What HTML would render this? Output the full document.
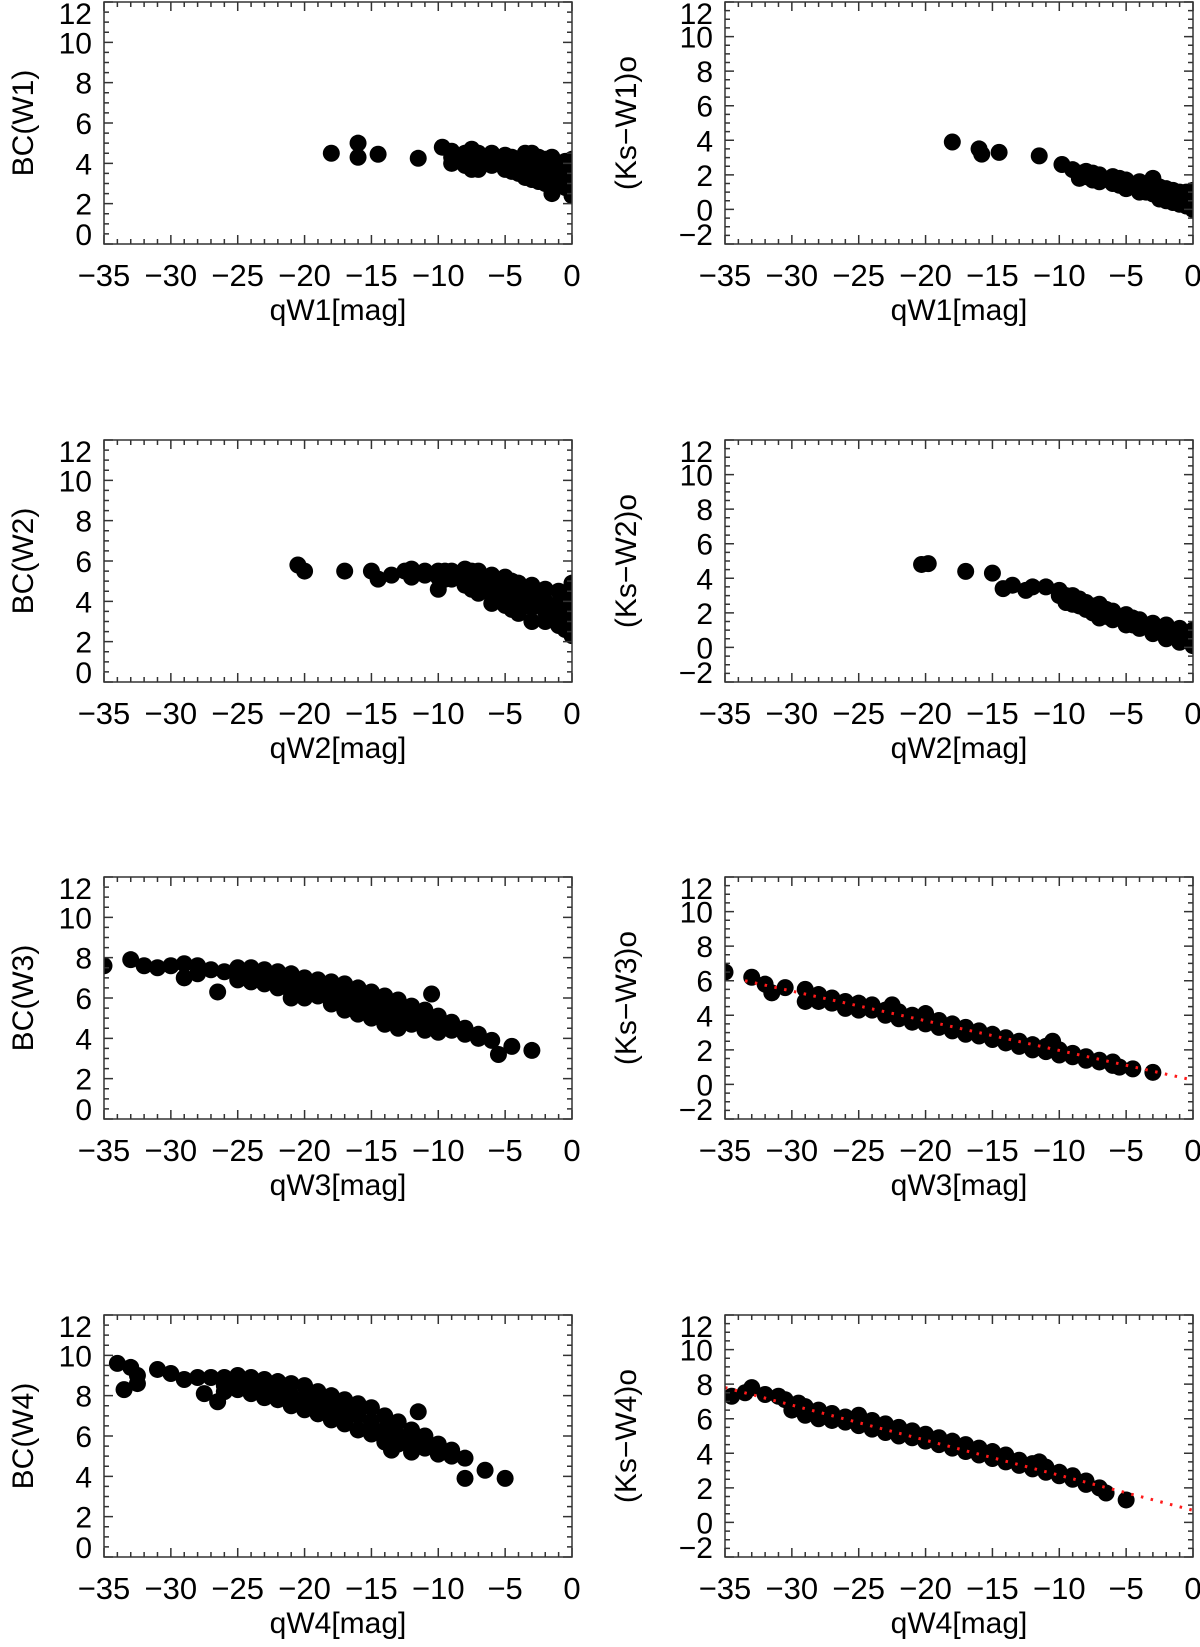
<!DOCTYPE html>
<html><head><meta charset="utf-8"><style>
html,body{margin:0;padding:0;background:#fff;}
svg text{font-family:"Liberation Sans",sans-serif;fill:#000;}
</style></head>
<body>
<svg id="fig" width="1200" height="1642" viewBox="0 0 1200 1642" xmlns="http://www.w3.org/2000/svg"></svg>
<script>
// ---- data ----
const xTicks = [-35,-30,-25,-20,-15,-10,-5,0];
const yTicksLeft = [0,2,4,6,8,10,12];
const yTicksRight = [-2,0,2,4,6,8,10,12];
const bcW1 = [[-18,4.5],[-16,4.3],[-16,5.0],[-14.5,4.45],[-11.5,4.25],[-9.7,4.8],
[-9,4.6],[-9,4.3],[-9,4.0],[-8,4.5],[-8,4.2],[-8,3.9],[-7.5,4.7],[-7.5,4.4],[-7.5,3.7],[-7,4.5],[-7,4.1],[-7,3.7],
[-6,4.5],[-6,4.2],[-6,3.9],[-5,4.4],[-5,4.1],[-5,3.7],[-4.5,4.3],[-4.5,4.0],[-4.5,3.6],[-4,4.2],[-4,3.9],[-4,3.5],
[-3.5,4.5],[-3.5,4.1],[-3.5,3.6],[-3.5,3.3],[-3,4.5],[-3,4.0],[-3,3.5],[-3,3.2],[-2.5,4.3],[-2.5,3.9],[-2.5,3.4],[-2.5,3.1],
[-2,4.2],[-2,3.8],[-2,3.3],[-2,3.0],[-1.5,4.3],[-1.5,3.7],[-1.5,3.2],[-1.5,2.5],[-1,4.0],[-1,3.6],[-1,3.1],[-1,2.9],
[-0.5,4.1],[-0.5,3.6],[-0.5,3.2],[-0.5,2.8],[0,4.2],[0,3.8],[0,3.4],[0,3.0],[0,2.4]];
const ksW1 = [[-18,3.9],[-16,3.5],[-15.8,3.2],[-14.5,3.3],[-11.5,3.1],[-9.8,2.6],
[-9,2.3],[-8.5,2.1],[-8.5,1.8],[-8,2.2],[-8,1.9],[-7.5,2.1],[-7.5,1.7],[-7,2.0],[-7,1.6],[-6,1.9],[-6,1.5],[-5.5,1.8],[-5.5,1.4],
[-5,1.7],[-5,1.3],[-5,1.2],[-4,1.6],[-4,1.2],[-4,1.0],[-3.5,1.4],[-3.5,1.0],[-3,1.8],[-3,1.3],[-3,0.9],[-2.5,1.3],[-2.5,0.9],[-2.5,0.6],
[-2,1.2],[-2,0.8],[-2,0.5],[-1.5,1.1],[-1.5,0.7],[-1.5,0.4],[-1,1.0],[-1,0.6],[-1,0.3],[-0.5,1.0],[-0.5,0.5],[-0.5,0.2],
[0,1.1],[0,0.7],[0,0.3],[0,0.0]];
const bcW2 = [[-20.5,5.8],[-20,5.5],[-17,5.5],[-15,5.5],[-14.5,5.1],[-13.5,5.3],[-12.5,5.5],
[-12,5.6],[-12,5.2],[-11,5.5],[-11,5.3],[-10,5.5],[-10,5.2],[-10,4.6],[-9.5,5.5],[-9.5,5.1],[-9,5.5],[-9,5.1],
[-8,5.6],[-8,5.2],[-8,4.8],[-7.5,5.5],[-7.5,5.0],[-7.5,4.6],[-7,5.5],[-7,4.9],[-7,4.4],[-6,5.3],[-6,4.8],[-6,4.3],[-6,3.9],
[-5,5.2],[-5,4.7],[-5,4.2],[-5,3.8],[-4.5,5.0],[-4.5,4.5],[-4.5,4.0],[-4.5,3.6],[-4,4.9],[-4,4.4],[-4,3.9],[-4,3.4],
[-3,4.8],[-3,4.2],[-3,3.7],[-3,3.0],[-2,4.6],[-2,4.0],[-2,3.5],[-2,3.0],[-1,4.5],[-1,3.9],[-1,3.3],[-1,2.8],
[-0.5,4.3],[-0.5,3.6],[-0.5,3.0],[-0.5,2.6],[0,4.9],[0,4.2],[0,3.6],[0,3.0],[0,2.3]];
const ksW2 = [[-20.3,4.8],[-19.8,4.85],[-17,4.4],[-15,4.3],[-14.2,3.4],[-13.5,3.6],[-12.5,3.3],[-12,3.5],[-11,3.5],
[-10,3.3],[-10,3.0],[-9.5,3.0],[-9.5,2.6],[-9,3.0],[-9,2.5],[-8.5,2.8],[-8.5,2.4],[-8,2.6],[-8,2.2],[-7.5,2.4],[-7.5,2.0],
[-7,2.5],[-7,2.0],[-7,1.7],[-6.5,2.2],[-6.5,1.8],[-6,2.1],[-6,1.6],[-5,1.9],[-5,1.5],[-5,1.3],[-4.5,1.7],[-4.5,1.3],
[-4,1.6],[-4,1.1],[-3,1.4],[-3,1.0],[-3,0.8],[-2,1.3],[-2,0.8],[-2,0.5],[-1,1.1],[-1,0.6],[-1,0.3],[0,1.0],[0,0.6],[0,0.1]];
const bcW3 = [[-35,7.6],[-33,7.9],[-32,7.6],[-31,7.5],[-30,7.6],[-29,7.7],[-29,7.0],[-28,7.6],[-28,7.2],[-27,7.4],[-26.5,6.3],[-26,7.3],
[-25,7.5],[-25,7.2],[-25,6.9],[-24,7.5],[-24,7.1],[-24,6.8],[-23,7.4],[-23,7.0],[-23,6.7],[-22,7.3],[-22,6.9],[-22,6.5],
[-21,7.2],[-21,6.7],[-21,6.3],[-21,6.0],[-20,7.0],[-20,6.6],[-20,6.2],[-20,6.0],[-19,6.9],[-19,6.5],[-19,6.1],
[-18,6.8],[-18,6.4],[-18,6.0],[-18,5.7],[-17,6.7],[-17,6.2],[-17,5.8],[-17,5.4],[-16,6.5],[-16,6.1],[-16,5.6],[-16,5.2],
[-15,6.3],[-15,5.9],[-15,5.4],[-15,5.0],[-14,6.1],[-14,5.6],[-14,5.1],[-14,4.7],[-13,5.9],[-13,5.3],[-13,4.9],[-13,4.5],
[-12,5.6],[-12,5.1],[-12,4.7],[-11,5.4],[-11,4.9],[-11,4.4],[-10.5,6.2],[-10,5.1],[-10,4.6],[-10,4.3],[-9,4.8],[-9,4.4],
[-8,4.5],[-8,4.2],[-7,4.2],[-7,4.0],[-6,3.9],[-5.5,3.2],[-4.5,3.6],[-3,3.4]];
const ksW3 = [[-35,6.5],[-33,6.2],[-32,5.8],[-31.5,5.3],[-30.5,5.6],[-29,5.5],[-29,4.8],[-28,5.2],[-28,4.8],[-27,5.0],[-27,4.7],
[-26,4.8],[-26,4.4],[-25,4.7],[-25,4.3],[-24,4.6],[-24,4.3],[-23,4.3],[-23,4.0],[-22.5,4.6],[-22,4.2],[-22,3.8],
[-21,4.0],[-21,3.6],[-20,4.1],[-20,3.9],[-20,3.5],[-19,3.7],[-19,3.3],[-18,3.5],[-18,3.1],[-17,3.3],[-17,2.9],
[-16,3.1],[-16,2.8],[-15,2.9],[-15,2.6],[-14,2.7],[-14,2.4],[-13,2.5],[-13,2.2],[-12,2.3],[-12,2.0],[-11,2.2],[-11,1.9],
[-10.5,2.5],[-10,2.0],[-10,1.7],[-9,1.8],[-9,1.6],[-8,1.6],[-8,1.4],[-7,1.4],[-7,1.3],[-6,1.3],[-6,1.1],[-5.5,1.0],[-4.5,0.9],[-3,0.7]];
const bcW4 = [[-34,9.6],[-33.5,8.3],[-33,9.4],[-32.5,8.6],[-32.5,9.0],[-31,9.3],[-30,9.1],[-29,8.8],[-28,8.9],[-27,8.9],[-27.5,8.1],[-26.5,7.7],
[-26,8.9],[-26,8.5],[-26,8.2],[-25,9.0],[-25,8.7],[-25,8.3],[-24,8.9],[-24,8.5],[-24,8.1],[-23,8.8],[-23,8.3],[-23,7.9],
[-22,8.7],[-22,8.2],[-22,7.8],[-21,8.6],[-21,8.0],[-21,7.5],[-20,8.5],[-20,7.9],[-20,7.3],[-19,8.2],[-19,7.7],[-19,7.1],
[-18,8.0],[-18,7.4],[-18,6.8],[-17,7.8],[-17,7.2],[-17,6.6],[-16,7.6],[-16,7.0],[-16,6.3],[-15,7.4],[-15,6.7],[-15,6.1],
[-14,7.0],[-14,6.3],[-14,5.7],[-13.5,6.4],[-13.5,5.3],[-13,6.7],[-13,6.0],[-13,5.6],[-12,6.3],[-12,5.7],[-12,5.2],
[-11.5,7.2],[-11,6.0],[-11,5.4],[-10,5.6],[-10,5.1],[-9,5.3],[-9,5.0],[-8,4.9],[-8,3.9],[-6.5,4.3],[-5,3.9]];
const ksW4 = [[-34.5,7.3],[-33.5,7.5],[-33,7.8],[-32,7.4],[-31,7.3],[-30.5,7.1],[-30,6.5],[-29.5,6.9],
[-29,6.7],[-29,6.2],[-28,6.5],[-28,6.0],[-27,6.3],[-27,5.9],[-26,6.1],[-26,5.8],[-25,6.2],[-25,5.6],[-24,5.9],[-24,5.4],
[-23,5.7],[-23,5.2],[-22,5.5],[-22,5.0],[-21,5.3],[-21,4.9],[-20,5.1],[-20,4.7],[-19,4.9],[-19,4.5],[-18,4.7],[-18,4.3],
[-17,4.5],[-17,4.1],[-16,4.3],[-16,3.9],[-15,4.1],[-15,3.7],[-14,3.9],[-14,3.5],[-13,3.6],[-13,3.3],[-12,3.4],[-12,3.1],
[-11.5,3.5],[-11,3.2],[-11,2.9],[-10,2.9],[-10,2.7],[-9,2.7],[-9,2.5],[-8,2.4],[-8,2.2],[-7,2.0],[-6.5,1.7],[-5,1.3]];
const fitW3 = [[-33.5,6.0],[0,0.25]];
const fitW4 = [[-35,7.8],[0,0.7]];

const panels = [
 {name:'bc-w1', col:0,row:0,data:bcW1,ylab:'BC(W1)',xlab:'qW1[mag]',fit:null},
 {name:'ks-w1', col:1,row:0,data:ksW1,ylab:'(Ks\u2212W1)o',xlab:'qW1[mag]',fit:null},
 {name:'bc-w2', col:0,row:1,data:bcW2,ylab:'BC(W2)',xlab:'qW2[mag]',fit:null},
 {name:'ks-w2', col:1,row:1,data:ksW2,ylab:'(Ks\u2212W2)o',xlab:'qW2[mag]',fit:null},
 {name:'bc-w3', col:0,row:2,data:bcW3,ylab:'BC(W3)',xlab:'qW3[mag]',fit:null},
 {name:'ks-w3', col:1,row:2,data:ksW3,ylab:'(Ks\u2212W3)o',xlab:'qW3[mag]',fit:fitW3},
 {name:'bc-w4', col:0,row:3,data:bcW4,ylab:'BC(W4)',xlab:'qW4[mag]',fit:null},
 {name:'ks-w4', col:1,row:3,data:ksW4,ylab:'(Ks\u2212W4)o',xlab:'qW4[mag]',fit:fitW4}
];

const NS='http://www.w3.org/2000/svg';
const svg=document.getElementById('fig');
function mk(tag,attrs,parent){const e=document.createElementNS(NS,tag);for(const k in attrs)e.setAttribute(k,attrs[k]);(parent||svg).appendChild(e);return e;}
const colX=[104,725], W=468, H=242, rowTop=[2,440,877,1315];
const fmt=v=>v<0?'\u2212'+(-v):String(v);

panels.forEach((p,i)=>{
  const x0=colX[p.col], y0=rowTop[p.row], x1=x0+W, y1=y0+H;
  const ymin=p.col===0?0:-2, ymax=12;
  const sx=v=>x0+(v+35)/35*W;
  const sy=v=>y1-(v-ymin)/(ymax-ymin)*H;
  const g=mk('g',{});
  
  
  const cid='clip'+i;
  const cp=mk('clipPath',{id:cid},g);
  mk('rect',{x:x0,y:y0,width:W,height:H},cp);
  const pts=mk('g',{'clip-path':'url(#'+cid+')'},g);
  
  
  p.data.forEach(d=>{
    const c=mk('circle',{cx:sx(d[0]),cy:sy(d[1]),r:8.5,fill:'#000'},pts);
    
    
  });
  if(p.fit){
    const l=mk('line',{x1:sx(p.fit[0][0]),y1:sy(p.fit[0][1]),x2:sx(p.fit[1][0]),y2:sy(p.fit[1][1]),stroke:'#ff1a1a','stroke-width':3,'stroke-dasharray':'2.5 7.5','stroke-linecap':'butt'},g);
    
    
  }
  const fr=mk('rect',{x:x0,y:y0,width:W,height:H,fill:'none',stroke:'#333','stroke-width':1.5},g);
  
  
  let tk='';
  for(let v=-35;v<=0;v++){const X=sx(v),L=(v%5===0)?9:5;tk+=`M${X},${y1}v${-L}M${X},${y0}v${L}`;}
  for(let v=ymin;v<=ymax+1e-9;v+=0.5){const Y=sy(v),L=(Math.abs(v%2)<1e-9)?9:5;tk+=`M${x0},${Y}h${L}M${x1},${Y}h${-L}`;}
  const t=mk('path',{d:tk,stroke:'#333','stroke-width':1.5,fill:'none'},g);
  
  
  xTicks.forEach(v=>{
    const tx=mk('text',{x:sx(v),y:y1+42,'font-size':31,'text-anchor':'middle'},g);
    tx.textContent=fmt(v);
    
    
  });
  const yt=p.col===0?yTicksLeft:yTicksRight;
  yt.forEach(v=>{
    let Y=sy(v);
    if(v===ymax)Y+=11; if(v===ymin)Y-=10;
    const tx=mk('text',{x:x0-12,y:Y+11,'font-size':30,'text-anchor':'end'},g);
    tx.textContent=fmt(v);
    
    
  });
  const xl=mk('text',{x:(x0+x1)/2,y:y1+76,'font-size':30,'text-anchor':'middle'},g);
  xl.textContent=p.xlab;
  
  
  const cx=p.col===0?33:636, cy=(y0+y1)/2;
  const yl=mk('text',{x:cx,y:cy,'font-size':30,'text-anchor':'middle',transform:`rotate(-90 ${cx} ${cy})`},g);
  yl.textContent=p.ylab;
  
  
});
</script>
</body></html>
